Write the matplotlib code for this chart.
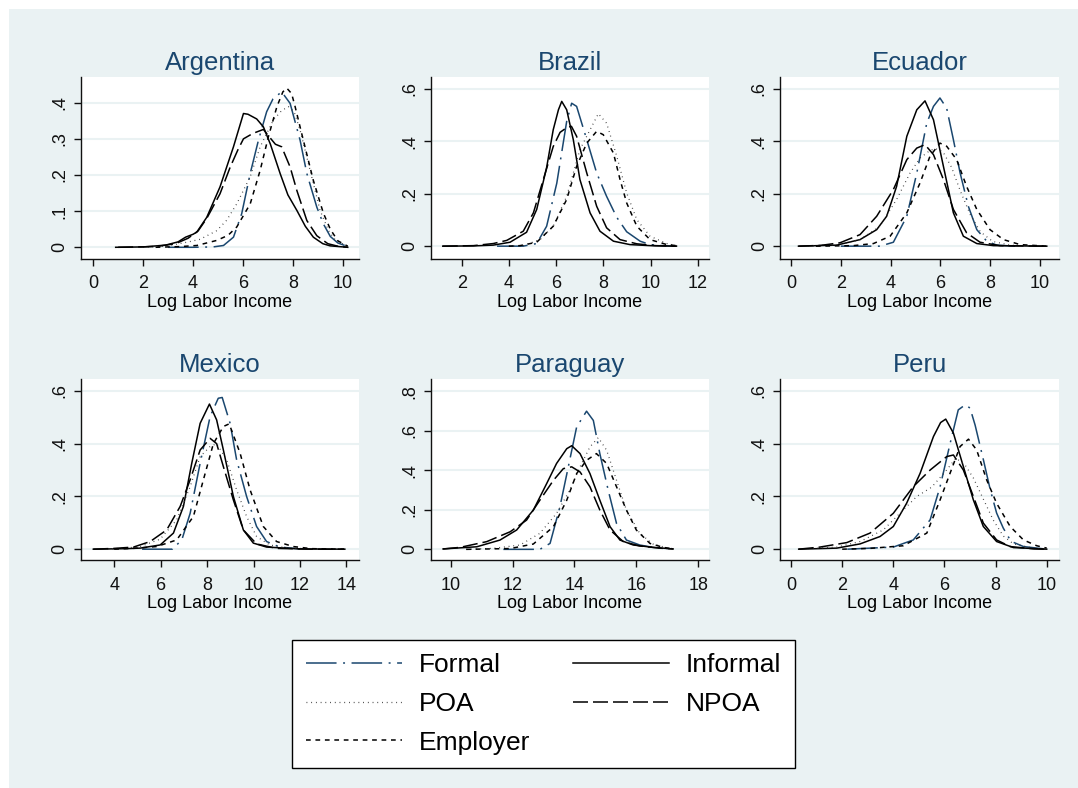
import numpy as np
import matplotlib
matplotlib.use('Agg')
from matplotlib import pyplot as plt
from matplotlib.lines import Line2D
from matplotlib.patches import Rectangle

plt.rcParams['font.family'] = ['Liberation Sans', 'DejaVu Sans']
plt.rcParams['lines.scale_dashes'] = False

# ---- data ----
# Argentina
arg_formal_x = [3.0, 4.0, 4.8, 5.22, 5.62, 5.95, 6.29, 6.62, 6.95, 7.2, 7.55, 7.89, 8.29, 8.56, 8.96, 9.22, 9.5, 9.8, 10.2]
arg_formal_y = [0, 0, 0.001, 0.005, 0.028, 0.093, 0.204, 0.296, 0.375, 0.41, 0.43, 0.398, 0.296, 0.204, 0.111, 0.065, 0.03, 0.012, 0.002]
arg_informal_x = [0.9, 2.0, 2.9, 3.4, 3.7, 4.0, 4.15, 4.55, 5.08, 5.62, 6.02, 6.2, 6.55, 6.82, 7.1, 7.49, 7.8, 8.16, 8.5, 8.82, 9.2, 9.49, 10.2]
arg_informal_y = [0, 0.001, 0.006, 0.015, 0.028, 0.036, 0.042, 0.083, 0.167, 0.278, 0.37, 0.368, 0.355, 0.333, 0.285, 0.204, 0.145, 0.102, 0.058, 0.028, 0.01, 0.004, 0]
arg_poa_x = [2.0, 3.0, 3.75, 4.28, 4.95, 5.35, 5.75, 6.29, 6.69, 7.22, 7.55, 7.82, 8.05, 8.29, 8.69, 9.09, 9.43, 9.7, 10.2]
arg_poa_y = [0, 0.004, 0.014, 0.022, 0.046, 0.075, 0.12, 0.195, 0.278, 0.352, 0.378, 0.389, 0.375, 0.324, 0.213, 0.102, 0.046, 0.02, 0.003]
arg_npoa_x = [1.0, 2.5, 3.3, 3.8, 4.2, 4.55, 5.08, 5.49, 5.8, 6.02, 6.4, 6.82, 7.0, 7.3, 7.55, 7.89, 8.16, 8.56, 8.96, 9.4, 9.8, 10.2]
arg_npoa_y = [0, 0.002, 0.01, 0.025, 0.045, 0.08, 0.148, 0.222, 0.27, 0.30, 0.315, 0.326, 0.31, 0.285, 0.278, 0.222, 0.157, 0.074, 0.032, 0.01, 0.003, 0]
arg_employer_x = [2.5, 3.5, 4.15, 4.95, 5.4, 5.75, 6.29, 6.69, 7.02, 7.36, 7.6, 7.76, 7.95, 8.09, 8.42, 8.82, 9.22, 9.5, 9.8, 10.2]
arg_employer_y = [0, 0.002, 0.005, 0.019, 0.033, 0.056, 0.12, 0.213, 0.306, 0.389, 0.43, 0.44, 0.425, 0.389, 0.296, 0.185, 0.095, 0.05, 0.018, 0.003]

# Brazil
bra_formal_x = [3.5, 4.6, 5.18, 5.6, 6.03, 6.45, 6.66, 6.87, 7.3, 7.72, 8.14, 8.57, 8.99, 9.56, 9.98, 10.5, 11.0]
bra_formal_y = [0, 0, 0.01, 0.076, 0.24, 0.476, 0.545, 0.533, 0.406, 0.279, 0.19, 0.11, 0.055, 0.019, 0.006, 0.002, 0]
bra_informal_x = [1.2, 2.5, 3.34, 4.05, 4.75, 5.18, 5.6, 5.88, 6.1, 6.24, 6.45, 6.73, 7.01, 7.44, 7.86, 8.43, 9.13, 10.0, 11.1]
bra_informal_y = [0, 0.001, 0.004, 0.015, 0.053, 0.14, 0.30, 0.444, 0.52, 0.552, 0.52, 0.406, 0.254, 0.127, 0.057, 0.019, 0.006, 0.002, 0]
bra_poa_x = [4.0, 4.61, 5.32, 5.88, 6.45, 7.01, 7.44, 7.79, 8.14, 8.57, 8.99, 9.42, 9.98, 10.69, 11.1]
bra_poa_y = [0, 0.002, 0.025, 0.076, 0.19, 0.368, 0.444, 0.505, 0.469, 0.343, 0.203, 0.101, 0.038, 0.01, 0.002]
bra_npoa_x = [1.2, 2.5, 3.34, 3.91, 4.61, 5.04, 5.46, 5.88, 6.17, 6.45, 6.65, 6.87, 7.3, 7.72, 8.14, 8.71, 9.42, 10.2, 11.1]
bra_npoa_y = [0, 0.002, 0.01, 0.022, 0.057, 0.127, 0.254, 0.38, 0.434, 0.452, 0.457, 0.419, 0.279, 0.152, 0.07, 0.025, 0.009, 0.002, 0]
bra_employer_x = [4.0, 4.47, 5.18, 5.88, 6.45, 6.87, 7.3, 7.72, 8.0, 8.43, 8.71, 8.99, 9.42, 9.98, 10.69, 11.1]
bra_employer_y = [0, 0.002, 0.015, 0.076, 0.178, 0.304, 0.393, 0.438, 0.425, 0.355, 0.254, 0.165, 0.076, 0.025, 0.006, 0.002]

# Ecuador
ecu_formal_x = [2.0, 3.57, 4.11, 4.65, 5.05, 5.45, 5.72, 5.98, 6.25, 6.52, 6.79, 7.12, 7.46, 7.86, 8.26, 9.0]
ecu_formal_y = [0, 0, 0.015, 0.114, 0.279, 0.469, 0.533, 0.565, 0.526, 0.406, 0.279, 0.152, 0.063, 0.019, 0.004, 0]
ecu_informal_x = [0.3, 1.83, 2.77, 3.44, 3.84, 4.24, 4.65, 5.05, 5.38, 5.72, 6.12, 6.52, 6.92, 7.46, 8.13, 10.27]
ecu_informal_y = [0, 0.004, 0.025, 0.063, 0.114, 0.228, 0.419, 0.52, 0.554, 0.482, 0.304, 0.127, 0.038, 0.01, 0.002, 0]
ecu_poa_x = [0.5, 1.97, 2.77, 3.57, 4.24, 4.78, 5.18, 5.58, 5.8, 6.1, 6.45, 6.8, 7.2, 7.6, 8.1, 8.8, 9.5]
ecu_poa_y = [0, 0.006, 0.025, 0.076, 0.178, 0.279, 0.336, 0.365, 0.372, 0.36, 0.3, 0.21, 0.12, 0.055, 0.018, 0.004, 0]
ecu_npoa_x = [0.3, 1.2, 1.97, 2.77, 3.44, 4.11, 4.65, 5.05, 5.38, 5.72, 6.12, 6.52, 7.05, 7.59, 8.39, 10.27]
ecu_npoa_y = [0, 0.003, 0.013, 0.044, 0.114, 0.216, 0.33, 0.374, 0.387, 0.349, 0.254, 0.14, 0.051, 0.015, 0.002, 0]
ecu_employer_x = [1.0, 2.5, 3.31, 3.98, 4.65, 5.18, 5.58, 5.98, 6.25, 6.65, 7.05, 7.46, 7.99, 8.53, 9.2, 10.27]
ecu_employer_y = [0, 0.002, 0.01, 0.038, 0.127, 0.241, 0.343, 0.393, 0.381, 0.33, 0.228, 0.14, 0.063, 0.025, 0.006, 0]

# Mexico
mex_formal_x = [5.2, 6.5, 6.91, 7.27, 7.7, 8.13, 8.48, 8.65, 8.99, 9.27, 9.7, 10.13, 10.56, 11.13, 12.0]
mex_formal_y = [0, 0, 0.035, 0.136, 0.326, 0.503, 0.572, 0.575, 0.477, 0.339, 0.2, 0.086, 0.029, 0.008, 0.001]
mex_informal_x = [3.1, 4.5, 5.12, 5.98, 6.55, 6.98, 7.34, 7.7, 8.1, 8.41, 8.7, 9.13, 9.56, 9.99, 10.56, 12.0, 13.93]
mex_informal_y = [0, 0.002, 0.004, 0.016, 0.061, 0.162, 0.326, 0.477, 0.55, 0.49, 0.376, 0.2, 0.073, 0.023, 0.008, 0.001, 0]
mex_poa_x = [3.5, 4.5, 5.12, 5.98, 6.69, 7.27, 7.7, 8.13, 8.41, 8.84, 9.27, 9.7, 10.13, 10.7, 11.5, 13.0]
mex_poa_y = [0, 0.004, 0.01, 0.038, 0.111, 0.237, 0.351, 0.389, 0.40, 0.339, 0.225, 0.124, 0.048, 0.016, 0.004, 0]
mex_npoa_x = [3.1, 4.0, 4.83, 5.55, 6.26, 6.84, 7.27, 7.7, 8.13, 8.41, 8.7, 9.13, 9.56, 10.13, 10.99, 12.5, 13.9]
mex_npoa_y = [0, 0.003, 0.008, 0.029, 0.073, 0.162, 0.263, 0.376, 0.42, 0.40, 0.313, 0.187, 0.073, 0.02, 0.003, 0, 0]
mex_employer_x = [4.0, 5.0, 5.83, 6.69, 7.41, 7.84, 8.27, 8.7, 8.95, 9.42, 9.85, 10.42, 10.99, 11.71, 12.5, 13.9]
mex_employer_y = [0, 0.004, 0.01, 0.035, 0.124, 0.263, 0.40, 0.465, 0.475, 0.364, 0.225, 0.086, 0.029, 0.01, 0.002, 0]

# Paraguay
par_formal_x = [11.7, 12.88, 13.21, 13.53, 13.8, 14.07, 14.39, 14.61, 14.82, 15.09, 15.36, 15.68, 16.11, 16.54, 17.0]
par_formal_y = [0, 0, 0.03, 0.216, 0.418, 0.62, 0.70, 0.653, 0.485, 0.30, 0.131, 0.047, 0.022, 0.01, 0.002]
par_informal_x = [9.75, 10.84, 11.59, 12.13, 12.67, 13.1, 13.42, 13.75, 13.91, 14.18, 14.5, 14.82, 15.15, 15.47, 15.9, 16.54, 17.19]
par_informal_y = [0.002, 0.013, 0.047, 0.098, 0.199, 0.333, 0.435, 0.51, 0.525, 0.485, 0.384, 0.249, 0.115, 0.047, 0.022, 0.01, 0.002]
par_poa_x = [10.5, 11.38, 12.24, 12.88, 13.42, 13.85, 14.18, 14.5, 14.77, 15.04, 15.36, 15.68, 16.11, 16.54, 16.98, 17.2]
par_poa_y = [0, 0.005, 0.022, 0.081, 0.182, 0.3, 0.418, 0.519, 0.566, 0.502, 0.35, 0.199, 0.081, 0.027, 0.008, 0.003]
par_npoa_x = [9.75, 10.3, 11.16, 11.92, 12.45, 12.88, 13.32, 13.64, 13.91, 14.18, 14.5, 14.82, 15.15, 15.58, 16.11, 16.76, 17.19]
par_npoa_y = [0.002, 0.01, 0.039, 0.089, 0.148, 0.249, 0.35, 0.409, 0.418, 0.392, 0.317, 0.199, 0.098, 0.039, 0.017, 0.006, 0.002]
par_employer_x = [10.5, 11.92, 12.67, 13.32, 13.75, 14.07, 14.39, 14.71, 15.04, 15.36, 15.68, 16.0, 16.44, 16.87, 17.2]
par_employer_y = [0, 0.004, 0.027, 0.115, 0.249, 0.384, 0.451, 0.485, 0.435, 0.317, 0.199, 0.098, 0.03, 0.01, 0.002]

# Peru
per_formal_x = [2.2, 4.0, 4.78, 5.44, 5.83, 6.22, 6.54, 6.81, 7.0, 7.2, 7.52, 7.78, 8.04, 8.3, 8.6, 9.09, 9.9]
per_formal_y = [0, 0.008, 0.035, 0.111, 0.237, 0.40, 0.528, 0.547, 0.535, 0.47, 0.34, 0.23, 0.137, 0.08, 0.03, 0.01, 0.001]
per_informal_x = [0.3, 1.79, 2.7, 3.48, 4.0, 4.52, 5.05, 5.57, 5.85, 6.05, 6.35, 6.74, 7.13, 7.52, 8.04, 8.7, 10.0]
per_informal_y = [0, 0.004, 0.02, 0.048, 0.086, 0.174, 0.288, 0.427, 0.48, 0.493, 0.44, 0.313, 0.187, 0.086, 0.029, 0.006, 0]
per_poa_x = [0.3, 1.79, 2.7, 3.61, 4.26, 4.92, 5.5, 6.0, 6.45, 6.8, 7.13, 7.52, 7.91, 8.3, 8.7, 9.5, 10.0]
per_poa_y = [0, 0.008, 0.029, 0.073, 0.136, 0.2, 0.235, 0.29, 0.345, 0.32, 0.27, 0.19, 0.11, 0.05, 0.02, 0.003, 0]
per_npoa_x = [0.3, 1.13, 2.18, 3.09, 4.0, 4.78, 5.44, 6.09, 6.35, 6.74, 7.13, 7.52, 8.04, 8.57, 9.5, 10.0]
per_npoa_y = [0, 0.008, 0.025, 0.061, 0.136, 0.237, 0.30, 0.351, 0.357, 0.30, 0.2, 0.099, 0.035, 0.01, 0.001, 0]
per_employer_x = [2.0, 3.09, 4.39, 5.31, 5.83, 6.22, 6.61, 6.94, 7.26, 7.65, 8.04, 8.57, 9.09, 9.61, 10.0]
per_employer_y = [0, 0.003, 0.013, 0.061, 0.187, 0.288, 0.389, 0.417, 0.376, 0.263, 0.174, 0.086, 0.035, 0.013, 0.004]

countries = ['Argentina', 'Brazil', 'Ecuador', 'Mexico', 'Paraguay', 'Peru']
series_names = ['Formal', 'Informal', 'POA', 'NPOA', 'Employer']
xticks = [range(0, 11, 2), range(2, 13, 2), range(0, 11, 2),
          range(4, 15, 2), range(10, 19, 2), range(0, 11, 2)]
yticks = [[0, .1, .2, .3, .4], [0, .2, .4, .6], [0, .2, .4, .6],
          [0, .2, .4, .6], [0, .2, .4, .6, .8], [0, .2, .4, .6]]
ytick_labels = [['0', '.1', '.2', '.3', '.4'], ['0', '.2', '.4', '.6'], ['0', '.2', '.4', '.6'],
                ['0', '.2', '.4', '.6'], ['0', '.2', '.4', '.6', '.8'], ['0', '.2', '.4', '.6']]
xlims = [(-0.49, 10.65), (0.69, 12.49), (-0.43, 10.76), (2.57, 14.54), (9.35, 18.36), (-0.42, 10.48)]
ylims = [(-0.031, 0.471), (-0.047, 0.645), (-0.047, 0.645), (-0.041, 0.645), (-0.054, 0.863), (-0.041, 0.645)]

curves = {
    'Argentina': [(arg_formal_x, arg_formal_y), (arg_informal_x, arg_informal_y), (arg_poa_x, arg_poa_y), (arg_npoa_x, arg_npoa_y), (arg_employer_x, arg_employer_y)],
    'Brazil': [(bra_formal_x, bra_formal_y), (bra_informal_x, bra_informal_y), (bra_poa_x, bra_poa_y), (bra_npoa_x, bra_npoa_y), (bra_employer_x, bra_employer_y)],
    'Ecuador': [(ecu_formal_x, ecu_formal_y), (ecu_informal_x, ecu_informal_y), (ecu_poa_x, ecu_poa_y), (ecu_npoa_x, ecu_npoa_y), (ecu_employer_x, ecu_employer_y)],
    'Mexico': [(mex_formal_x, mex_formal_y), (mex_informal_x, mex_informal_y), (mex_poa_x, mex_poa_y), (mex_npoa_x, mex_npoa_y), (mex_employer_x, mex_employer_y)],
    'Paraguay': [(par_formal_x, par_formal_y), (par_informal_x, par_informal_y), (par_poa_x, par_poa_y), (par_npoa_x, par_npoa_y), (par_employer_x, par_employer_y)],
    'Peru': [(per_formal_x, per_formal_y), (per_informal_x, per_informal_y), (per_poa_x, per_poa_y), (per_npoa_x, per_npoa_y), (per_employer_x, per_employer_y)],
}

# stata-ish line styles
styles = [
    dict(color='#1a476f', ls=(0, (22, 4.7, 1.4, 4.7)), lw=1.1),   # Formal
    dict(color='black', ls='-', lw=1.1),                           # Informal
    dict(color='#333333', ls=(0, (0.6, 2.8)), lw=0.9),            # POA
    dict(color='black', ls=(0, (10.8, 3.6)), lw=1.1),             # NPOA
    dict(color='black', ls=(0, (3.4, 3.4)), lw=1.1),              # Employer
]

bg = '#eaf2f3'
W, H = 1078, 788
fig = plt.figure(figsize=(W / 100, H / 100), dpi=100)
fig.patches.append(Rectangle((9 / W, 0), 1 - 9 / W, 1 - 9 / H, transform=fig.transFigure,
                             facecolor=bg, edgecolor='none', zorder=-10))

# panel boxes in pixels: left, top, right, bottom
cols = [(81, 359), (430.7, 709.3), (780.3, 1059)]
rows = [(77, 258.5), (379, 560)]

for i, c in enumerate(countries):
    l, r = cols[i % 3]
    t, b = rows[i // 3]
    ax = fig.add_axes([l / W, 1 - b / H, (r - l) / W, (b - t) / H])
    ax.set_facecolor('white')
    for (x, y), st in zip(curves[c], styles):
        ax.plot(x, y, color=st['color'], linestyle=st['ls'], linewidth=st['lw'],
                solid_joinstyle='round', dash_capstyle='butt')
    ax.set_xlim(*xlims[i])
    ax.set_ylim(*ylims[i])
    ax.set_xticks(list(xticks[i]))
    ax.set_yticks(yticks[i])
    ax.set_yticklabels(ytick_labels[i], rotation=90, va='center')
    ax.grid(axis='y', color=bg, linewidth=1.5)
    ax.set_axisbelow(True)
    for s in ['top', 'right']:
        ax.spines[s].set_visible(False)
    for s in ['left', 'bottom']:
        ax.spines[s].set_linewidth(1.0)
        ax.spines[s].set_color('#111111')
    ax.tick_params(direction='out', length=5, width=1.0, labelsize=13, colors='#111111')
    ax.tick_params(axis='x', pad=7)
    ax.tick_params(axis='y', pad=4)
    ax.set_xlabel('Log Labor Income', fontsize=13, labelpad=1)
    ax.set_title(c, fontsize=18.5, color='#1a476f', pad=5)

handles = [Line2D([], [], color=st['color'], linestyle=st['ls'], linewidth=st['lw']) for st in styles]
order = [0, 2, 4, 1, 3]
leg = fig.legend([handles[k] for k in order], [series_names[k] for k in order],
                 loc='center', bbox_to_anchor=(543.5 / W, 1 - 704 / H), ncol=2,
                 fontsize=19, handlelength=3.65, handletextpad=0.65, columnspacing=1.6,
                 labelspacing=0.55, borderpad=0.5, fancybox=False, framealpha=1,
                 edgecolor='black')
leg.get_frame().set_linewidth(1.0)

plt.savefig('out.png', dpi=100, facecolor='white')
